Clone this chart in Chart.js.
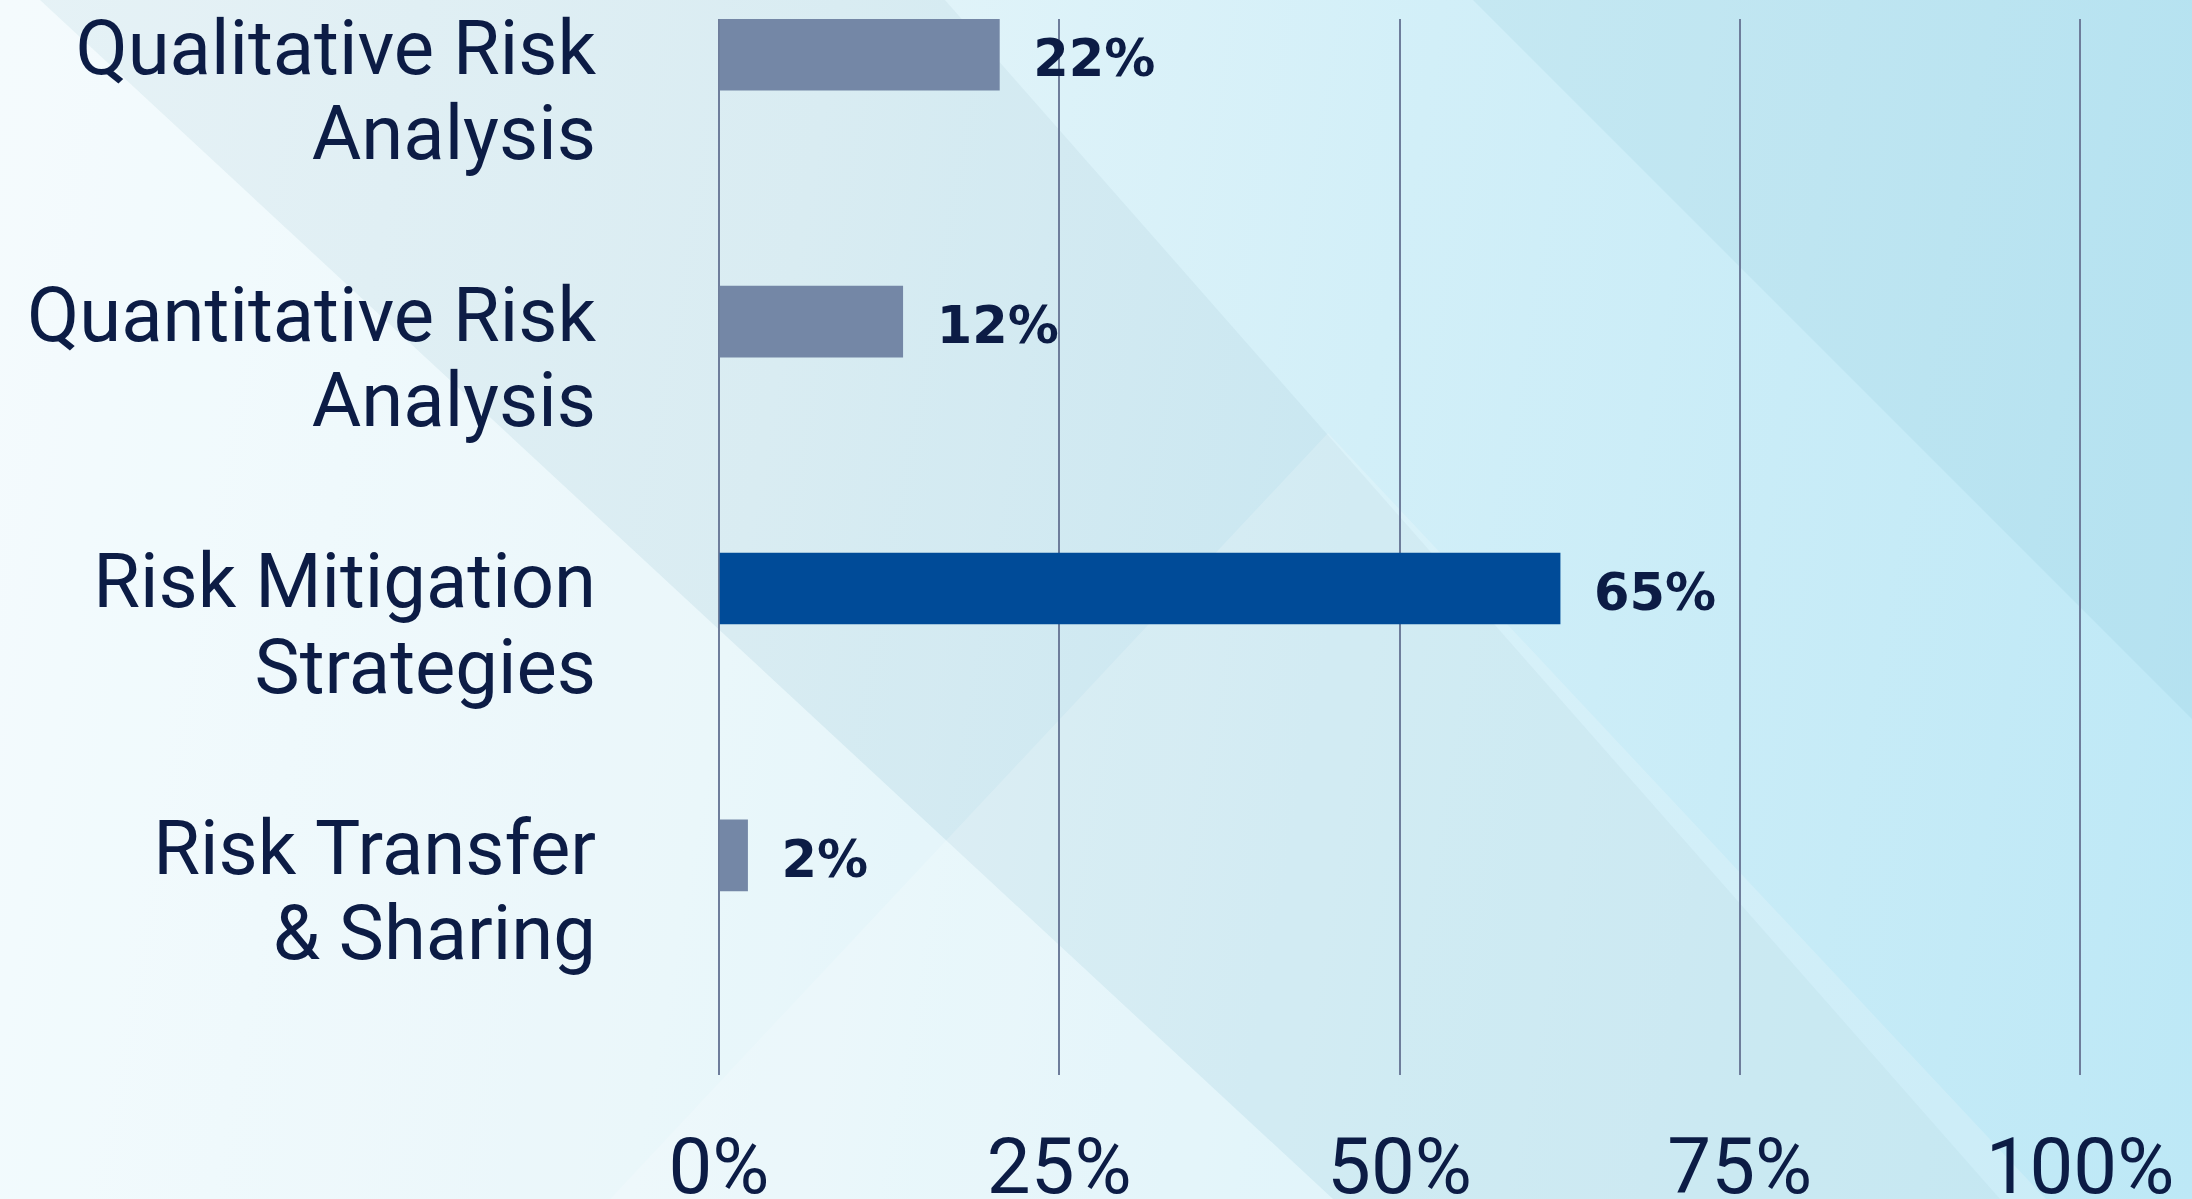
<!DOCTYPE html>
<html>
<head>
<meta charset="utf-8">
<script src="https://cdn.jsdelivr.net/npm/chart.js@4"></script>
<style>
  html, body { margin: 0; padding: 0; }
  body {
    width: 2192px; height: 1199px; overflow: hidden; position: relative;
    background: linear-gradient(100deg, #f1fafd 0%, #e3f4f9 35%, #d2eff8 60%, #bde8f6 100%);
  }
  #bg { position: absolute; left: 0; top: 0; }
  #wrap { position: absolute; left: 0; top: 0; width: 2192px; height: 1199px; }
</style>
</head>
<body>
<!-- decorative diagonal background shapes -->
<svg id="bg" width="2192" height="1199" viewBox="0 0 2192 1199">
  <polygon points="40,0 945,0 2000,1199 1333,1199" fill="#3f7f8f" fill-opacity="0.06"/>
  <polygon points="1473,0 2192,0 2192,719" fill="#3a98b5" fill-opacity="0.08"/>
  <polygon points="610,1199 1328,433 2046,1199" fill="#ffffff" fill-opacity="0.18"/>
  <polygon points="0,0 40,0 1333,1199 0,1199" fill="#ffffff" fill-opacity="0.25"/>
</svg>
<div id="wrap"><canvas id="chart"></canvas></div>
<script>
// DATA
const categories = [
  ["Qualitative Risk", "Analysis"],
  ["Quantitative Risk", "Analysis"],
  ["Risk Mitigation", "Strategies"],
  ["Risk Transfer", "& Sharing"]
];
const barValues = [20.6, 13.5, 61.8, 2.1];       // bar lengths as drawn
const valueLabels = ["22%", "12%", "65%", "2%"];  // printed labels
const xTicks = [0, 25, 50, 75, 100];
const highlightIndex = 2;

// STYLE
const NAVY = "#0c1c45";
const BAR_GREY = "#7487a6";
const BAR_BLUE = "#004b98";
const GRID = "#6e7d9b";

// value labels right of each bar
const valueLabelPlugin = {
  id: "valueLabels",
  afterDatasetsDraw(chart) {
    const { ctx } = chart;
    const meta = chart.getDatasetMeta(0);
    ctx.save();
    ctx.font = "bold 51px 'DejaVu Sans'";
    ctx.fillStyle = NAVY;
    ctx.textAlign = "left";
    ctx.textBaseline = "middle";
    meta.data.forEach((bar, i) => {
      ctx.fillText(valueLabels[i], bar.x + 34, bar.y + 8);
    });
    ctx.restore();
  }
};

new Chart(document.getElementById("chart"), {
  type: "bar",
  data: {
    datasets: [
      {
        data: barValues.map((v, i) => ({ x: v, y: i })),
        backgroundColor: barValues.map((_, i) => (i === highlightIndex ? BAR_BLUE : BAR_GREY)),
        borderWidth: 0,
        barThickness: 71
      }
    ]
  },
  options: {
    indexAxis: "y",
    responsive: true,
    maintainAspectRatio: false,
    animation: false,
    layout: { padding: { top: 19, right: 112, bottom: 0, left: 0 } },
    plugins: {
      legend: { display: false },
      tooltip: { enabled: false }
    },
    scales: {
      x: {
        type: "linear",
        min: 0,
        max: 100,
        afterBuildTicks: (axis) => {
          axis.ticks = xTicks.map((v) => ({ value: v }));
        },
        afterFit: (scale) => {
          scale.height = 124;
          scale.paddingLeft = 0;
          scale.paddingRight = 0;
        },
        grid: { color: GRID, lineWidth: 2, drawTicks: false },
        border: { display: false },
        ticks: {
          padding: 52,
          color: NAVY,
          font: { family: "Roboto", size: 78 },
          maxRotation: 0,
          callback: (v) => v + "%"
        }
      },
      y: {
        type: "linear",
        reverse: true,
        offset: false,
        min: -0.134,
        max: 3.823,
        afterBuildTicks: (axis) => {
          axis.ticks = categories.map((_, i) => ({ value: i }));
        },
        afterFit: (scale) => {
          scale.width = 719;
          scale.paddingTop = 0;
          scale.paddingBottom = 0;
        },
        grid: { display: false, offset: false },
        border: { display: false },
        ticks: {
          padding: 115,
          color: NAVY,
          font: { family: "Roboto", size: 76, lineHeight: 1.12 },
          // blank first line so the label's first line sits level with the bar
          callback: (v, i) => ["", ...categories[i]]
        }
      }
    }
  },
  plugins: [valueLabelPlugin]
});
</script>
</body>
</html>
